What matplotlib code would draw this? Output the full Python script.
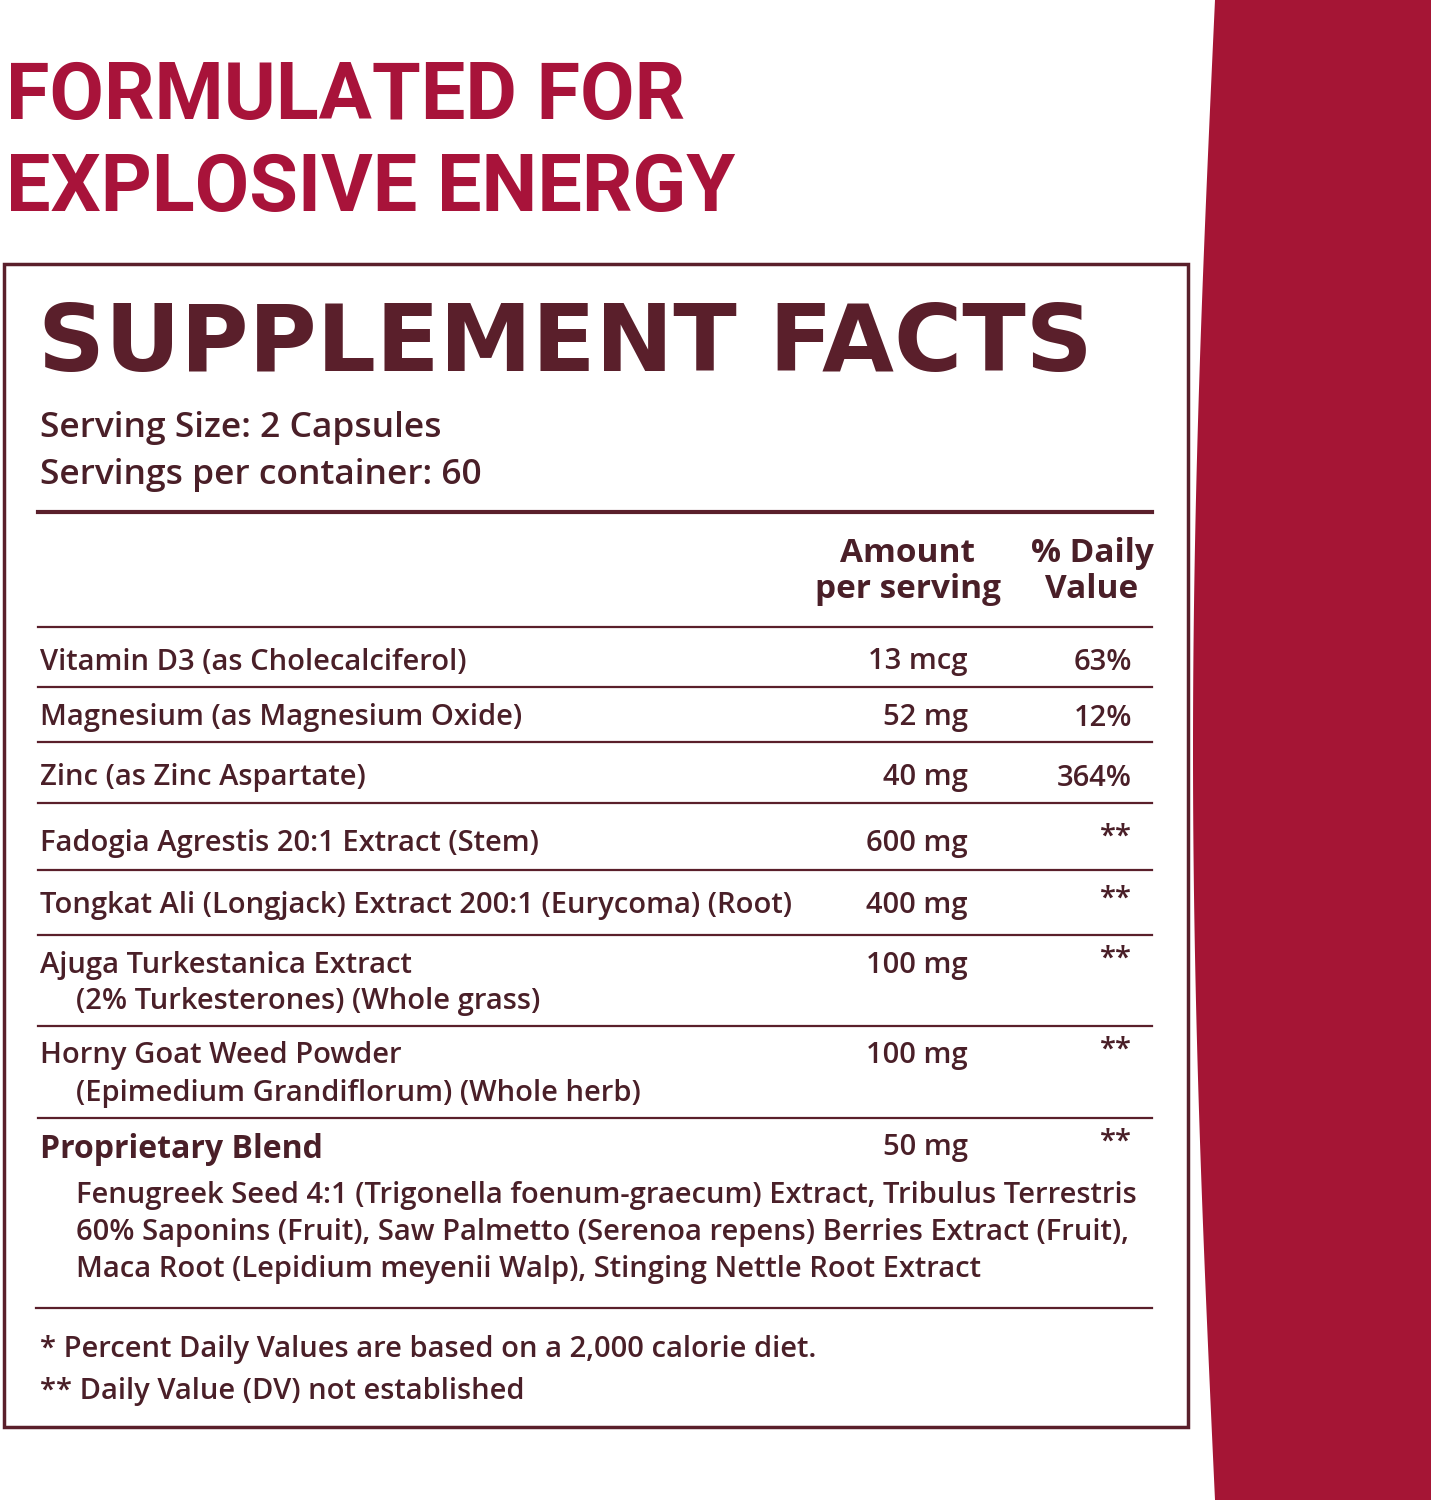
import numpy as np
import matplotlib.pyplot as plt
from matplotlib.patches import Rectangle

RED = "#a8133a"
DARK = "#5a1f2b"
TXT = "#4a1f28"

headline = ["FORMULATED FOR", "EXPLOSIVE ENERGY"]
serving = ["Serving Size: 2 Capsules", "Servings per container: 60"]
names = [
    ["Vitamin D3 (as Cholecalciferol)"],
    ["Magnesium (as Magnesium Oxide)"],
    ["Zinc (as Zinc Aspartate)"],
    ["Fadogia Agrestis 20:1 Extract (Stem)"],
    ["Tongkat Ali (Longjack) Extract 200:1 (Eurycoma) (Root)"],
    ["Ajuga Turkestanica Extract", "(2% Turkesterones) (Whole grass)"],
    ["Horny Goat Weed Powder", "(Epimedium Grandiflorum) (Whole herb)"],
]
amounts = ["13 mcg", "52 mg", "40 mg", "600 mg", "400 mg", "100 mg", "100 mg"]
daily = ["63%", "12%", "364%", "**", "**", "**", "**"]
row_y = [662, 718, 778, 843, 905, 965, 1056]
rules = [627, 687, 742, 803, 870, 935, 1026, 1118]
blend_amount = "50 mg"
blend_lines = [
    "Fenugreek Seed 4:1 (Trigonella foenum-graecum) Extract, Tribulus Terrestris",
    "60% Saponins (Fruit), Saw Palmetto (Serenoa repens) Berries Extract (Fruit),",
    "Maca Root (Lepidium meyenii Walp), Stinging Nettle Root Extract",
]
notes = ["* Percent Daily Values are based on a 2,000 calorie diet.",
         "** Daily Value (DV) not established"]

plt.rcParams["font.family"] = ["Open Sans", "DejaVu Sans"]
fig = plt.figure(figsize=(14.31, 15), dpi=100)
ax = fig.add_axes([0, 0, 1, 1])
ax.set_xlim(0, 1431)
ax.set_ylim(1500, 0)
ax.axis("off")

# red band on the right
yy = np.linspace(0, 1500, 200)
xx = 1215 - 22 * np.sin(np.pi * yy / 1500)
ax.fill(np.r_[xx, 1431, 1431], np.r_[yy, 1500, 0], color="#a51535", lw=0)

ax.text(6, 97, headline[0], fontsize=57, fontweight="bold", color=RED,
        family="Roboto", va="center")
ax.text(6, 190, headline[1], fontsize=57, fontweight="bold", color=RED,
        family="Roboto", va="center")

ax.add_patch(Rectangle((4, 264), 1184, 1163, fill=False, ec=DARK, lw=2.5, zorder=3))
ax.text(38, 345, "SUPPLEMENT FACTS", fontsize=67, fontweight="bold",
        color=DARK, family="DejaVu Sans", va="center")

BODY = dict(fontsize=21, fontweight="semibold", color=TXT, va="center")
for i, s in enumerate(serving):
    ax.text(40, 428 + 47 * i, s, fontsize=25.5, fontweight="semibold", color=TXT, va="center")
ax.plot([38, 1152], [512, 512], color=DARK, lw=3)
HEAD = dict(fontsize=24, fontweight="bold", color=TXT, ha="center", va="center")
ax.text(908, 553, "Amount", **HEAD)
ax.text(908, 590, "per serving", **HEAD)
ax.text(1092, 553, "% Daily", **HEAD)
ax.text(1092, 590, "Value", **HEAD)

for r in rules:
    ax.plot([38, 1152], [r, r], color=DARK, lw=1.6)

for nm, am, dv, y in zip(names, amounts, daily, row_y):
    ax.text(40, y, nm[0], **BODY)
    if len(nm) > 1:
        ax.text(76, y + 37, nm[1], **BODY)
    ax.text(968, y, am, ha="right", **BODY)
    ax.text(1132, y - (6 if dv == "**" else 0), dv, ha="right", **BODY)

ax.text(40, 1150, "Proprietary Blend", fontsize=23, fontweight="bold", color=TXT, va="center")
ax.text(968, 1148, blend_amount, ha="right", **BODY)
ax.text(1132, 1142, "**", ha="right", **BODY)
for i, s in enumerate(blend_lines):
    ax.text(76, 1196 + 36.5 * i, s, **BODY)
ax.plot([36, 1152], [1308, 1308], color=DARK, lw=1.6)
for i, s in enumerate(notes):
    ax.text(40, 1349 + 43 * i, s, **BODY)

fig.savefig("out.png", dpi=100)
